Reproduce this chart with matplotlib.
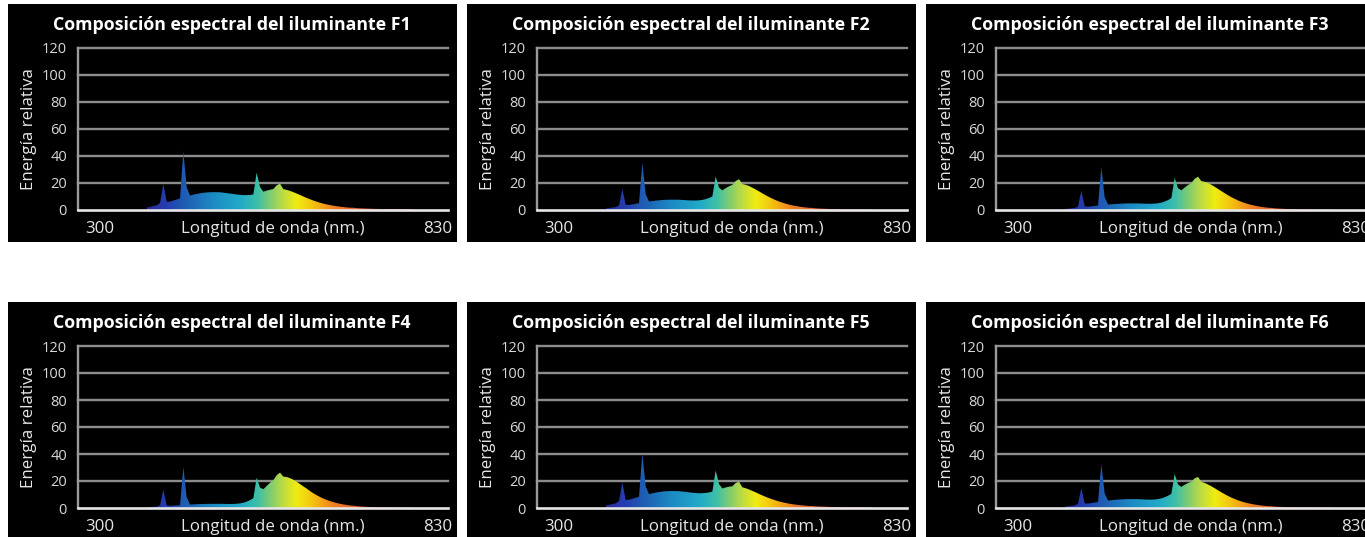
import matplotlib
matplotlib.use('Agg')
import matplotlib.pyplot as plt
import numpy as np
from matplotlib.patches import Rectangle, Polygon
from matplotlib.colors import LinearSegmentedColormap

plt.rcParams['font.family'] = ['Open Sans', 'DejaVu Sans']

W, H = 1365, 537

# CIE fluorescent illuminants, 380-780 nm every 5 nm
wavelengths = np.arange(380, 781, 5)

f1 = [1.87, 2.36, 2.94, 3.47, 5.17, 19.49, 6.13, 6.24, 7.01, 7.79, 8.56, 43.67, 16.94, 10.72, 11.35, 11.89,
      12.37, 12.75, 13.00, 13.15, 13.23, 13.17, 13.13, 12.85, 12.52, 12.20, 11.83, 11.50, 11.22, 11.05, 11.03,
      11.18, 11.53, 27.74, 17.05, 13.55, 14.33, 15.01, 15.52, 18.29, 19.55, 15.48, 14.91, 14.15, 13.22, 12.19,
      11.12, 10.03, 8.95, 7.96, 7.02, 6.20, 5.42, 4.73, 4.15, 3.64, 3.20, 2.81, 2.47, 2.18, 1.93, 1.72, 1.67,
      1.43, 1.29, 1.19, 1.08, 0.96, 0.88, 0.81, 0.77, 0.75, 0.73, 0.68, 0.69, 0.64, 0.68, 0.69, 0.61, 0.52, 0.43]
f2 = [1.18, 1.48, 1.84, 2.15, 3.44, 15.69, 3.85, 3.74, 4.19, 4.62, 5.06, 34.98, 11.81, 6.27, 6.63, 6.93,
      7.19, 7.40, 7.54, 7.62, 7.65, 7.62, 7.62, 7.45, 7.28, 7.15, 7.05, 7.04, 7.16, 7.47, 8.04, 8.88, 10.01,
      24.88, 16.64, 14.59, 16.16, 17.56, 18.62, 21.47, 22.79, 19.29, 18.66, 17.73, 16.54, 15.21, 13.80, 12.36,
      10.95, 9.65, 8.40, 7.32, 6.31, 5.43, 4.68, 4.02, 3.45, 2.96, 2.55, 2.19, 1.89, 1.64, 1.53, 1.27, 1.10,
      0.99, 0.88, 0.76, 0.68, 0.61, 0.56, 0.54, 0.51, 0.47, 0.47, 0.43, 0.46, 0.47, 0.40, 0.33, 0.27]
f3 = [0.82, 1.02, 1.26, 1.44, 2.57, 14.36, 2.70, 2.45, 2.73, 3.00, 3.28, 31.85, 9.47, 4.02, 4.25, 4.44,
      4.59, 4.72, 4.80, 4.86, 4.87, 4.85, 4.88, 4.77, 4.67, 4.62, 4.62, 4.73, 4.99, 5.48, 6.25, 7.34, 8.78,
      23.82, 16.14, 14.59, 16.63, 18.49, 19.95, 23.11, 24.69, 21.41, 20.85, 19.93, 18.67, 17.22, 15.65, 14.04,
      12.45, 10.95, 9.51, 8.27, 7.11, 6.09, 5.22, 4.45, 3.80, 3.23, 2.75, 2.33, 1.99, 1.70, 1.55, 1.27, 1.09,
      0.96, 0.83, 0.71, 0.62, 0.54, 0.49, 0.46, 0.43, 0.39, 0.39, 0.35, 0.38, 0.39, 0.33, 0.28, 0.21]
f4 = [0.57, 0.70, 0.87, 0.98, 2.01, 13.75, 1.95, 1.59, 1.76, 1.93, 2.10, 30.28, 8.03, 2.55, 2.70, 2.82,
      2.91, 2.99, 3.04, 3.08, 3.09, 3.09, 3.14, 3.06, 3.00, 2.98, 3.01, 3.14, 3.41, 3.90, 4.69, 5.81, 7.32,
      22.59, 15.11, 13.88, 16.33, 18.68, 20.64, 24.28, 26.26, 23.28, 22.94, 22.14, 20.91, 19.43, 17.74, 16.00,
      14.42, 12.56, 10.93, 9.52, 8.18, 7.01, 6.00, 5.11, 4.36, 3.69, 3.13, 2.64, 2.24, 1.91, 1.70, 1.39, 1.18,
      1.03, 0.88, 0.74, 0.64, 0.54, 0.49, 0.46, 0.42, 0.37, 0.37, 0.33, 0.35, 0.36, 0.31, 0.26, 0.19]
f5 = [1.87, 2.35, 2.92, 3.45, 5.10, 18.91, 6.00, 6.11, 6.85, 7.58, 8.31, 40.76, 16.06, 10.32, 10.91, 11.40,
      11.83, 12.17, 12.40, 12.54, 12.58, 12.52, 12.47, 12.20, 11.89, 11.61, 11.33, 11.10, 10.96, 10.97, 11.16,
      11.54, 12.12, 27.78, 17.73, 14.47, 15.20, 15.77, 16.10, 18.54, 19.50, 15.39, 14.64, 13.72, 12.69, 11.57,
      10.45, 9.35, 8.29, 7.32, 6.41, 5.63, 4.90, 4.26, 3.72, 3.25, 2.83, 2.49, 2.19, 1.93, 1.71, 1.52, 1.48,
      1.26, 1.13, 1.05, 0.96, 0.85, 0.78, 0.72, 0.68, 0.67, 0.65, 0.61, 0.62, 0.59, 0.62, 0.64, 0.55, 0.47, 0.40]
f6 = [1.05, 1.31, 1.63, 1.90, 3.11, 14.80, 3.43, 3.30, 3.68, 4.07, 4.45, 32.61, 10.74, 5.48, 5.78, 6.03,
      6.25, 6.41, 6.52, 6.58, 6.59, 6.56, 6.56, 6.42, 6.28, 6.20, 6.19, 6.30, 6.60, 7.12, 7.94, 9.07, 10.49,
      25.22, 17.46, 15.63, 17.22, 18.53, 19.43, 21.97, 23.01, 19.41, 18.56, 17.42, 16.09, 14.64, 13.15, 11.68,
      10.25, 8.95, 7.74, 6.69, 5.71, 4.87, 4.16, 3.55, 3.02, 2.57, 2.20, 1.87, 1.60, 1.37, 1.29, 1.05, 0.91,
      0.81, 0.71, 0.61, 0.54, 0.48, 0.44, 0.43, 0.40, 0.37, 0.38, 0.35, 0.39, 0.41, 0.33, 0.26, 0.21]

names = ['F1', 'F2', 'F3', 'F4', 'F5', 'F6']
spectra = [f1, f2, f3, f4, f5, f6]
yticks = [0, 20, 40, 60, 80, 100, 120]

# spectrum-like colour ramp, keyed by wavelength
ramp_nm = [380, 410, 440, 480, 520, 545, 565, 585, 605, 630, 660, 700, 780]
ramp_col = ['#2a2a9a', '#2340b0', '#1e62b4', '#1c8cc4', '#22aac8', '#3cbfa8', '#80cc70',
            '#c0dc40', '#f0ec10', '#f4c010', '#f08020', '#e05a3a', '#c05060']
pos = [(n - 380) / 400 for n in ramp_nm]
spec_cmap = LinearSegmentedColormap.from_list('spec', list(zip(pos, ramp_col)))

XMIN, XMAX = 277, 832
TXT = '#e6e6e6'


def px(x0, y0, x1, y1):
    return [x0 / W, 1 - y1 / H, (x1 - x0) / W, (y1 - y0) / H]


fig = plt.figure(figsize=(W / 100, H / 100), dpi=100, facecolor='white')

panel_x = [8, 467, 926]
panel_y = [4, 302]

for i, (name, vals) in enumerate(zip(names, spectra)):
    x0 = panel_x[i % 3]
    y0 = panel_y[i // 3]
    fig.add_artist(Rectangle((x0 / W, 1 - (y0 + 238) / H), 449 / W, 238 / H,
                             transform=fig.transFigure, facecolor='black', edgecolor='none', zorder=0))

    ax = fig.add_axes(px(x0 + 70, y0 + 44, x0 + 440, y0 + 206))
    ax.set_facecolor('black')
    for s in ax.spines.values():
        s.set_visible(False)

    for v in yticks[1:]:
        ax.axhline(v, color='#8c8c8c', lw=1.7, clip_on=False, zorder=1)
    ax.axvline(XMIN, color='#9a9a9a', lw=1.7, clip_on=False, zorder=1)

    # gradient fill clipped by the spectrum outline
    verts = np.column_stack([np.r_[wavelengths, wavelengths[::-1]],
                             np.r_[vals, np.zeros(len(vals))]])
    outline = Polygon(verts, closed=True, facecolor='none', edgecolor='none')
    ax.add_patch(outline)
    grad = np.linspace(0, 1, 400).reshape(1, -1)
    im = ax.imshow(grad, extent=[380, 780, 0, 50], aspect='auto', cmap=spec_cmap,
                   origin='lower', zorder=2, interpolation='bilinear')
    im.set_clip_path(outline)
    ax.set_xlim(XMIN, XMAX)
    ax.set_ylim(0, 120)

    ax.axhline(0, color=TXT, lw=1.9, clip_on=False, zorder=3)

    ax.set_xticks([])
    ax.set_yticks(yticks)
    ax.tick_params(axis='y', length=0, pad=8, labelcolor='#d8d8d8', labelsize=10.5)

    fig.text((x0 + 21) / W, 1 - (y0 + 125) / H, 'Energía relativa', color=TXT, fontsize=12.2,
             rotation=90, ha='center', va='center')
    fig.text((x0 + 92) / W, 1 - (y0 + 225) / H, '300', color=TXT, fontsize=12.2,
             ha='center', va='center')
    fig.text((x0 + 265) / W, 1 - (y0 + 225) / H, 'Longitud de onda (nm.)', color=TXT,
             fontsize=12.2, ha='center', va='center')
    fig.text((x0 + 430) / W, 1 - (y0 + 225) / H, '830', color=TXT, fontsize=12.2,
             ha='center', va='center')
    fig.text((x0 + 224) / W, 1 - (y0 + 21) / H, f'Composición espectral del iluminante {name}',
             color='white', fontsize=12.8, fontweight='bold', ha='center', va='center')

fig.savefig('out.png', dpi=100, facecolor='white')
